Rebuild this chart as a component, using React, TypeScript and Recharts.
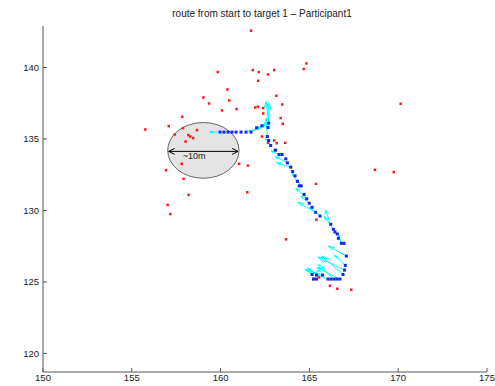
import React from "react";
import { ScatterChart, Scatter, XAxis, YAxis, ReferenceLine, ReferenceArea } from "recharts";

const xTicks = [150, 155, 160, 165, 170, 175];
const yTicks = [120, 125, 130, 135, 140];

// scattered red points
const redX = [161.71, 159.84, 160.38, 159.03, 160.49, 159.35, 160.9, 160.08, 163.02, 164.68, 164.83, 161.81, 162.15, 162.67, 162.12, 163.14, 163.47, 161.95, 162.1, 162.39, 157.84, 157.08, 155.76, 157.88, 158.67, 157.42, 158.18, 158.29, 158.45, 158.03, 157.81, 156.93, 161.04, 161.54, 157.92, 158.2, 157.02, 157.17, 162.4, 163.38, 163.5, 162.33, 163.02, 163.16, 163.64, 162.67, 163.05, 165.37, 161.5, 165.39, 163.68, 165.22, 165.54, 166.16, 166.57, 167.36, 170.14, 168.69, 169.75];
const redY = [142.57, 139.68, 138.46, 137.9, 137.69, 137.48, 137.09, 136.99, 139.82, 139.89, 140.28, 139.82, 139.68, 139.51, 139.07, 138.02, 137.41, 137.2, 137.25, 137.16, 136.55, 135.9, 135.66, 135.76, 135.62, 135.31, 135.27, 135.17, 135.06, 134.82, 133.26, 132.81, 133.26, 133.14, 132.21, 131.09, 130.39, 129.75, 136.78, 136.46, 136.06, 135.17, 134.89, 134.7, 134.73, 134.73, 134.21, 131.86, 131.27, 129.36, 127.98, 125.2, 125.32, 124.73, 124.52, 124.45, 137.46, 132.84, 132.68];

// route (blue)
const routeX = [159.97, 160.19, 160.42, 160.64, 160.87, 161.15, 161.43, 161.71, 162.03, 162.33, 162.71, 162.67, 162.63, 162.71, 162.82, 163.1, 163.29, 163.46, 163.67, 163.76, 163.95, 164.06, 164.19, 164.32, 164.43, 164.54, 164.7, 164.85, 164.99, 165.15, 165.35, 165.6, 166.2, 166.35, 166.44, 166.57, 166.63, 166.8, 166.95, 167.08, 167.02, 166.98, 166.89, 166.72, 166.55, 166.39, 166.22, 166.05, 165.74, 165.4, 165.15, 165.23, 165.4];
const routeY = [135.48, 135.48, 135.48, 135.48, 135.48, 135.48, 135.48, 135.48, 135.78, 135.92, 136.11, 135.8, 135.17, 134.89, 134.54, 134.22, 133.91, 133.91, 133.61, 133.33, 133.03, 132.72, 132.42, 132.03, 131.72, 131.72, 131.12, 130.81, 130.5, 130.22, 129.87, 129.61, 129.03, 128.68, 128.49, 128.35, 128.05, 127.7, 127.7, 126.81, 126.16, 125.83, 125.52, 125.2, 125.2, 125.2, 125.2, 125.2, 125.48, 125.48, 125.52, 125.2, 125.2];

// heading arrows (cyan): base and vector
const arrowX = [159.97, 161.43, 161.71, 162.03, 162.71, 162.67, 162.63, 162.82, 163.29, 163.76, 163.95, 164.32, 164.54, 164.85, 164.99, 165.35, 165.6, 166.2, 166.35, 166.8, 167.08, 167.02, 166.98, 166.89, 166.72, 166.39, 166.05, 165.74, 165.4, 165.15];
const arrowY = [135.48, 135.48, 135.48, 135.78, 136.11, 135.8, 135.17, 134.54, 133.91, 133.33, 133.03, 132.03, 131.72, 130.81, 130.5, 129.87, 129.61, 129.03, 128.68, 127.7, 126.81, 126.16, 125.83, 125.52, 125.2, 125.2, 125.2, 125.48, 125.48, 125.52];
const arrowU = [-0.56, 0.9, 0.9, 0.6, -0.15, 0.05, -0.05, -0.3, -0.45, -0.7, -0.8, -0.3, -0.25, -0.6, -0.45, -1.0, -0.6, -0.3, -0.5, -0.15, -1.0, -0.6, -1.5, -1.2, -1.3, -0.9, -1.2, -1.0, -0.5, 0.4];
const arrowV = [0, 0.35, 0.55, 0.3, 1.5, 1.7, 1.3, 0.5, 0.25, 0.45, 0.3, 0.6, 0.45, 0.75, 0.5, 0.7, 0.6, 1.0, 0.9, 0.6, 0.7, 0.7, 0.9, 1.3, 0.8, 1.0, 0.6, 0.4, 0.5, 0.3];

// ~10m circle bounds
const circleX = [157.02, 161.04];
const circleY = [132.25, 136.15];

const redData = redX.map((x, i) => ({ x, y: redY[i] }));
const routeData = routeX.map((x, i) => ({ x, y: routeY[i] }));

const FONT = "'Liberation Sans', Arial, sans-serif";
const CYAN = "#00ffff";

function arrowSegments() {
  const segs: { x: number; y: number }[][] = [];
  arrowX.forEach((x0, i) => {
    const u = arrowU[i];
    const v = arrowV[i];
    const x1 = x0 + u;
    const y1 = arrowY[i] + v;
    segs.push([{ x: x0, y: arrowY[i] }, { x: x1, y: y1 }]);
    const a = Math.atan2(v, u);
    const len = Math.hypot(u, v) * 0.3;
    [0.32, -0.32].forEach((d) => {
      segs.push([
        { x: x1, y: y1 },
        { x: x1 - len * Math.cos(a + d), y: y1 - len * Math.sin(a + d) },
      ]);
    });
  });
  return segs;
}

const square = (color: string, s: number) => (p: any) => (
  <rect x={p.cx - s / 2} y={p.cy - s / 2} width={s} height={s} fill={color} />
);

function CircleShape(p: any) {
  const { x, y, width, height } = p;
  const cx = x + width / 2;
  const cy = y + height / 2;
  const ly = cy + 1;
  const x0 = x + 1;
  const x1 = x + width - 1;
  return (
    <g>
      <ellipse cx={cx} cy={cy} rx={width / 2} ry={height / 2} fill="#e4e4e4" stroke="#666" strokeWidth={1} />
      <line x1={x0} y1={ly} x2={x1} y2={ly} stroke="#000" strokeWidth={1} />
      <path d={`M${x0 + 6},${ly - 3} L${x0},${ly} L${x0 + 6},${ly + 3}`} fill="none" stroke="#000" />
      <path d={`M${x1 - 6},${ly - 3} L${x1},${ly} L${x1 - 6},${ly + 3}`} fill="none" stroke="#000" />
      <text x={x + width * 0.37} y={ly + 8} textAnchor="middle" fontSize={9} fontFamily={FONT} fill="#222">
        ~10m
      </text>
    </g>
  );
}

export default function App() {
  const tick = { fontSize: 9.5, fill: "#222", fontFamily: FONT };
  return (
    <div style={{ position: "absolute", left: 0, top: 0, width: 495, height: 386, background: "#fff" }}>
      <div
        style={{
          position: "absolute",
          top: 8,
          left: 262,
          transform: "translateX(-50%)",
          whiteSpace: "nowrap",
          fontFamily: FONT,
          fontSize: 10,
          color: "#222",
        }}
      >
        route from start to target 1 – Participant1
      </div>
      <ScatterChart width={495} height={386} margin={{ top: 26, right: 8, bottom: 0, left: 0 }}>
        <XAxis
          type="number"
          dataKey="x"
          domain={[150, 175]}
          ticks={xTicks}
          allowDataOverflow
          height={14}
          tickSize={-4}
          tickMargin={6}
          tick={tick}
          stroke="#555"
          interval={0}
        />
        <YAxis
          type="number"
          dataKey="y"
          domain={[118.7, 142.9]}
          ticks={yTicks}
          allowDataOverflow
          width={43}
          tickSize={-4}
          tickMargin={8}
          tick={tick}
          stroke="#555"
          interval={0}
        />
        <ReferenceArea
          x1={circleX[0]}
          x2={circleX[1]}
          y1={circleY[0]}
          y2={circleY[1]}
          shape={CircleShape}
        />
        {arrowSegments().map((s, i) => (
          <ReferenceLine key={i} segment={s} stroke={CYAN} strokeWidth={1} />
        ))}
        <Scatter data={redData} shape={square("#ff1a1a", 2.5)} isAnimationActive={false} />
        <Scatter data={routeData} shape={square("#0a28f0", 3)} isAnimationActive={false} />
      </ScatterChart>
    </div>
  );
}
